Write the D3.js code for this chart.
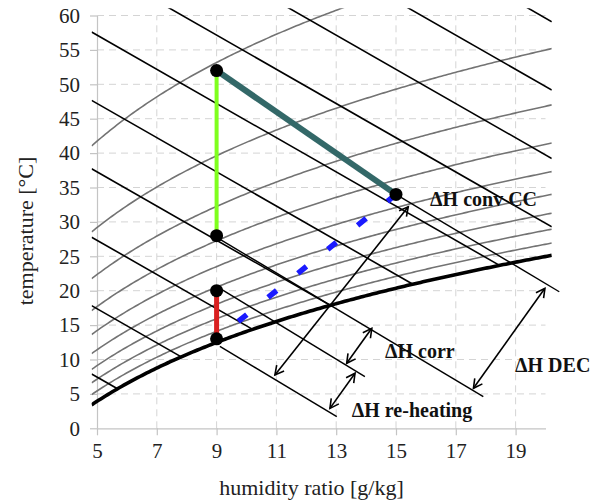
<!DOCTYPE html>
<html><head><meta charset="utf-8">
<script src="https://cdn.jsdelivr.net/npm/d3@7"></script>
<style>
html,body{margin:0;padding:0;background:#fff;}
svg{display:block;}
</style></head>
<body>
<script>
// ---------- data ----------
const xTicks = [5, 7, 9, 11, 13, 15, 17, 19];
const yTicks = [0, 5, 10, 15, 20, 25, 30, 35, 40, 45, 50, 55, 60];
const rhLevels = [0.1, 0.2, 0.3, 0.4, 0.5, 0.6, 0.7, 0.8, 0.9];
const enthalpyLevels = [20, 30, 40, 50, 60, 70, 80, 90, 100, 110];
const chartExtentW = [4.82, 20.21];
const chartTopT = 61.05;
const processPoints = [[9, 13], [9, 20], [9, 28], [9, 52], [15, 34]];
const reheatSegment = [[9, 13], [9, 20]];
const heatingSegment = [[9, 28], [9, 52]];
const coolingSegment = [[9, 52], [15, 34]];
const idealSegment = [[9, 13], [15, 34]];
const annotationLines = [
  [[9.11, 11.9], [13.02, 1.69]],
  [[9.11, 20.35], [13.96, 7.5]],
  [[9.06, 27.6], [17.92, 4.6]],
  [[15.0, 34.0], [20.46, 19.85]]
];
const arrows = [
  [[10.95, 7.75], [15.41, 32.2]],
  [[12.79, 2.9], [13.63, 8.0]],
  [[13.35, 9.45], [14.19, 14.53]],
  [[17.59, 5.81], [19.98, 20.35]]
];
const labelTexts = ["ΔH conv CC", "ΔH corr", "ΔH DEC", "ΔH re-heating"];
const labelAnchors = [[16.14, 32.35], [14.63, 10.17], [18.98, 8.23], [13.52, 1.6]];
const xTitle = "humidity ratio [g/kg]";
const yTitle = "temperature [°C]";

// ---------- psychrometrics ----------
const P = 101.325;
function tempAtRH(w, r) {
  const pv = w * P / (622 + w);
  const L = Math.log(pv / r / 0.61094);
  return 243.04 * L / (17.625 - L);
}
const tempAtH = (w, h) => (h - 2.501 * w) / 1.006;
function satIntersect(h) {
  let a = chartExtentW[0], b = 40;
  for (let i = 0; i < 60; i++) {
    const m = (a + b) / 2;
    if (tempAtH(m, h) > tempAtRH(m, 1)) a = m; else b = m;
  }
  return (a + b) / 2;
}

// ---------- drawing ----------
const W = 603, H = 502;
const svg = d3.select("body").append("svg").attr("width", W).attr("height", H);
const x = d3.scaleLinear([5, 20], [97, 545.5]);
const y = d3.scaleLinear([0, 60], [428.3, 15.5]);
const serif = "'Liberation Serif', 'Times New Roman', Times, serif";

// grid
const grid = svg.append("g").attr("stroke", "#d4d4d4").attr("stroke-width", 1).attr("stroke-dasharray", "7,5");
grid.selectAll(".gh").data(yTicks.filter(t => t > 0)).join("line")
  .attr("x1", x(5)).attr("x2", x(20)).attr("y1", d => y(d)).attr("y2", d => y(d));
grid.selectAll(".gv").data(xTicks.filter(t => t > 5)).join("line")
  .attr("y1", y(0)).attr("y2", y(60)).attr("x1", d => x(d)).attr("x2", d => x(d));

// axes
const xAxis = svg.append("g").attr("transform", `translate(0,${y(0)})`)
  .call(d3.axisBottom(x).tickValues(xTicks).tickSize(7).tickSizeOuter(0).tickPadding(8).tickFormat(d3.format("d")));
const yAxis = svg.append("g").attr("transform", `translate(${x(5)},0)`)
  .call(d3.axisLeft(y).tickValues(yTicks).tickSize(7).tickSizeOuter(0).tickPadding(10).tickFormat(d3.format("d")));
[xAxis, yAxis].forEach(a => {
  a.attr("font-family", null).attr("font-size", null);
  a.selectAll("path,line").attr("stroke", "#c4c4c4").attr("stroke-width", 1.2);
  a.selectAll("text").style("font-family", serif).style("font-size", "21px").attr("fill", "#222");
});

// clip
svg.append("clipPath").attr("id", "plotclip").append("rect")
  .attr("x", x(chartExtentW[0])).attr("y", y(chartTopT))
  .attr("width", x(chartExtentW[1]) - x(chartExtentW[0]))
  .attr("height", y(-5) - y(chartTopT));
const plot = svg.append("g").attr("clip-path", "url(#plotclip)");
const line = d3.line().x(d => x(d[0])).y(d => y(d[1]));

const wSamples = d3.range(0, 201).map(i => chartExtentW[0] + (chartExtentW[1] - chartExtentW[0]) * i / 200);

// RH curves
plot.selectAll(".rh").data(rhLevels).join("path")
  .attr("fill", "none").attr("stroke", "#737373").attr("stroke-width", 1.6)
  .attr("d", r => line(wSamples.map(w => [w, tempAtRH(w, r)])));

// enthalpy lines
plot.selectAll(".h").data(enthalpyLevels).join("path")
  .attr("fill", "none").attr("stroke", "#000").attr("stroke-width", 1.6)
  .attr("d", h => {
    const w1 = Math.min(chartExtentW[1], satIntersect(h));
    const w0 = chartExtentW[0];
    return line([[w0, tempAtH(w0, h)], [w1, tempAtH(w1, h)]]);
  });

// saturation
plot.append("path").attr("fill", "none").attr("stroke", "#000").attr("stroke-width", 3.6)
  .attr("d", line(wSamples.map(w => [w, tempAtRH(w, 1)])));

// annotation lines
svg.selectAll(".ann").data(annotationLines).join("path")
  .attr("fill", "none").attr("stroke", "#000").attr("stroke-width", 1.4)
  .attr("d", d => line(d));

// process lines
svg.append("path").attr("d", line(idealSegment)).attr("stroke", "#1a1aff").attr("stroke-width", 5.5)
  .attr("fill", "none").attr("stroke-dasharray", "11,27.3").attr("stroke-dashoffset", 10.5);
svg.append("path").attr("d", line(heatingSegment)).attr("stroke", "#7fff1e").attr("stroke-width", 4).attr("fill", "none");
svg.append("path").attr("d", line(coolingSegment)).attr("stroke", "#336868").attr("stroke-width", 6).attr("fill", "none");
svg.append("path").attr("d", line(reheatSegment)).attr("stroke", "#d92020").attr("stroke-width", 5).attr("fill", "none");

// arrows
const ag = svg.append("g").attr("stroke", "#000").attr("stroke-width", 1.6).attr("fill", "none");
arrows.forEach(([a, b]) => {
  const p0 = [x(a[0]), y(a[1])], p1 = [x(b[0]), y(b[1])];
  ag.append("line").attr("x1", p0[0]).attr("y1", p0[1]).attr("x2", p1[0]).attr("y2", p1[1]);
  [[p0, p1], [p1, p0]].forEach(([tip, from]) => {
    const dx = tip[0] - from[0], dy = tip[1] - from[1], len = Math.hypot(dx, dy);
    const ux = dx / len, uy = dy / len, L = 10, ang = 28 * Math.PI / 180;
    const pts = [-ang, ang].map(t => {
      const rx = ux * Math.cos(t) - uy * Math.sin(t), ry = ux * Math.sin(t) + uy * Math.cos(t);
      return [tip[0] - L * rx, tip[1] - L * ry];
    });
    ag.append("path").attr("d", `M${pts[0]}L${tip}L${pts[1]}`);
  });
});

// points
svg.selectAll(".pt").data(processPoints).join("circle")
  .attr("cx", d => x(d[0])).attr("cy", d => y(d[1])).attr("r", 6.5).attr("fill", "#000");

// labels
svg.selectAll(".lbl").data(labelTexts).join("text")
  .attr("x", (d, i) => x(labelAnchors[i][0])).attr("y", (d, i) => y(labelAnchors[i][1]))
  .style("font-family", serif).attr("font-weight", "bold").style("font-size", "20px").attr("fill", "#111")
  .text(d => d);

// axis titles
svg.append("text").attr("x", 311.5).attr("y", 495).attr("text-anchor", "middle")
  .style("font-family", serif).style("font-size", "22px").attr("fill", "#222").text(xTitle);
svg.append("text").attr("transform", "translate(33,231) rotate(-90)").attr("text-anchor", "middle")
  .style("font-family", serif).style("font-size", "22px").attr("fill", "#222").text(yTitle);
</script>
</body></html>
